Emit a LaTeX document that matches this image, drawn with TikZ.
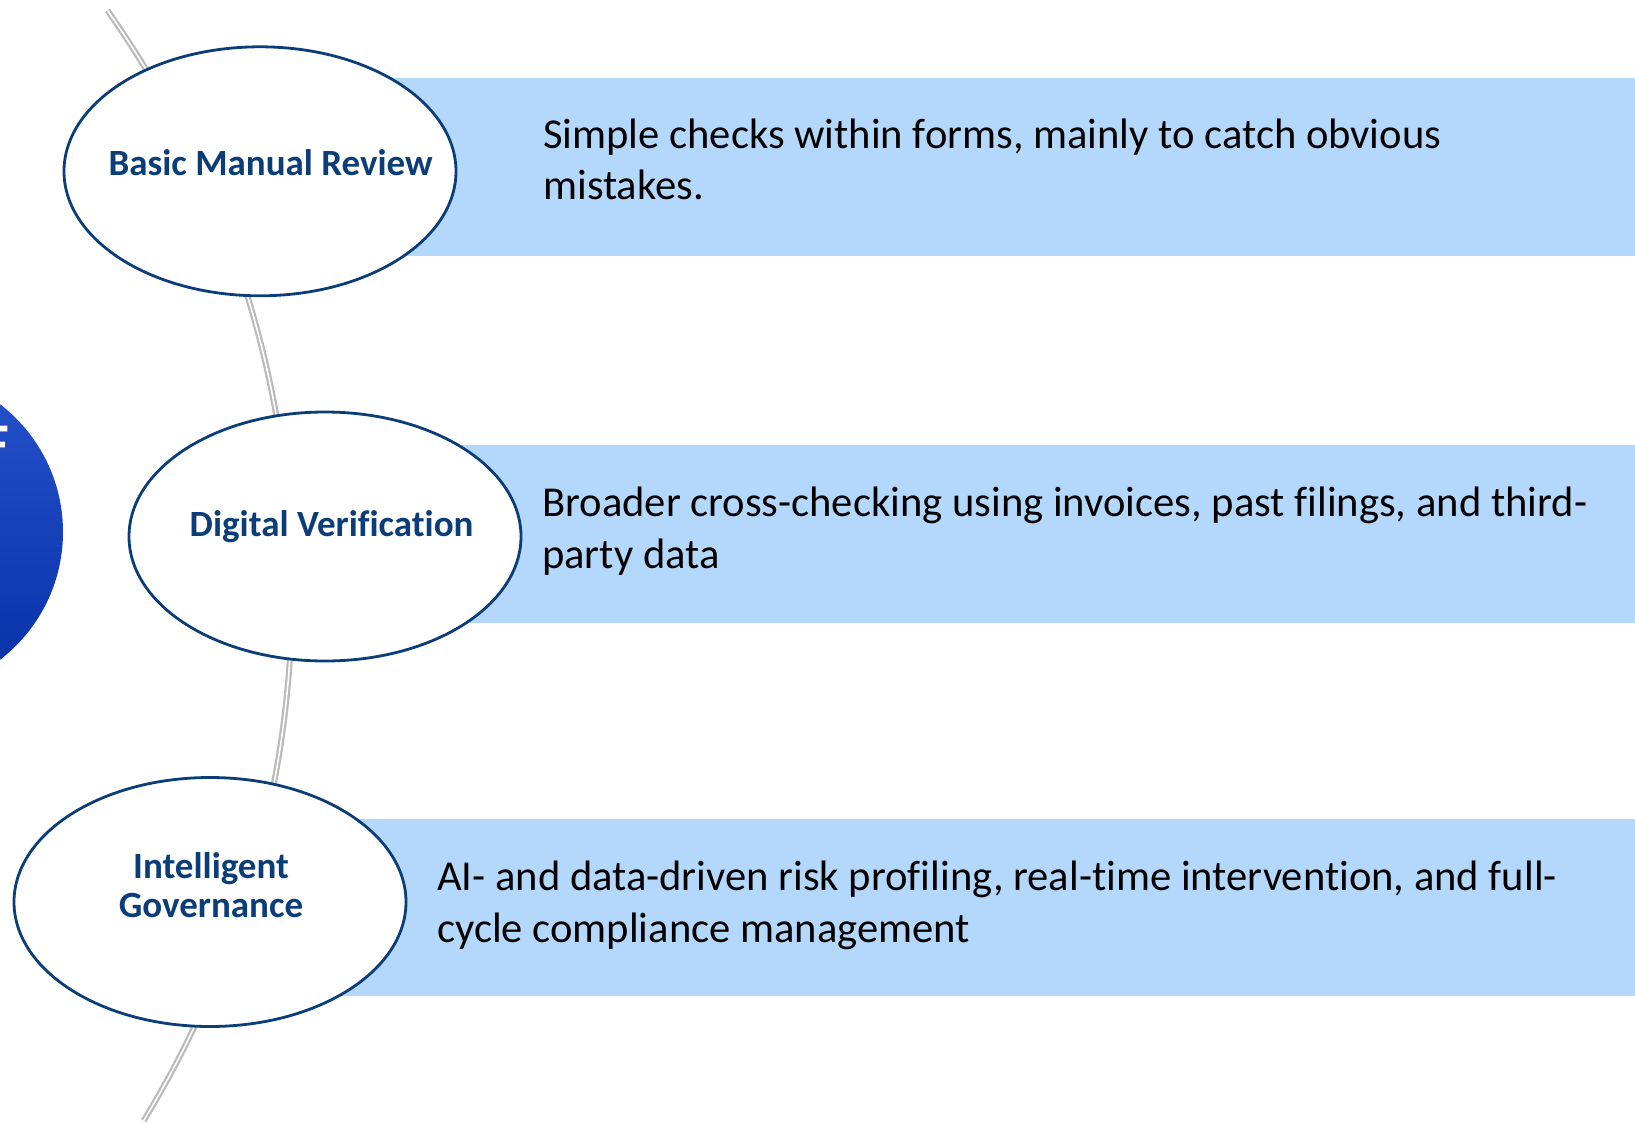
\documentclass[tikz,border=0pt]{standalone}
\usepackage{fontspec}
\setmainfont{Carlito}[Ligatures={CommonOff}]
\usetikzlibrary{shapes.geometric}
\definecolor{bandblue}{RGB}{180,216,252}
\definecolor{navy}{HTML}{0B3D78}
\definecolor{railgray}{RGB}{186,186,186}
\definecolor{hubtop}{RGB}{38,82,204}
\definecolor{hubbottom}{RGB}{6,48,165}
\begin{document}
\begin{tikzpicture}[x=1pt,y=-1pt,
  band/.style={fill=bandblue, draw=none},
  stage/.style={ellipse, draw=navy, line width=2.8pt, fill=white,
    minimum width=392pt, minimum height=249pt, inner sep=0pt},
  stagelabel/.style={font=\fontsize{37}{39.5}\selectfont\bfseries, text=navy,
    align=center, inner sep=0pt, anchor=base},
  desc/.style={font=\fontsize{42.6}{51.6}\selectfont, anchor=base west,
    align=left, inner sep=0pt},
  rail/.style={draw=railgray, line width=2.2pt, double=white, double distance=1.6pt}
]
\useasboundingbox (0,0) rectangle (1635,1124);
\clip (0,0) rectangle (1635,1124);

% hub disc on the left edge
\shade[top color=hubtop, bottom color=hubbottom] (-98,532) circle[radius=161];
\node[font=\fontsize{56}{60}\selectfont\bfseries, text=white, anchor=base east,
  inner sep=0pt] (hubtext) at (9,462) {F};

% description bands
\fill[band] (260,77.7) rectangle (1635,255.7);
\fill[band] (325,445.2) rectangle (1635,622.5);
\fill[band] (210,818.5) rectangle (1635,995.8);

% connecting rail
\coordinate (railtop) at (107.4,10.4);
\draw[rail] (railtop) arc[start angle=-35.16, end angle=31.42, radius=1012];

% stages
\node[stage] (basic) at (260,171.3) {};
\node[stage] (digital) at (325,536.5) {};
\node[stage] (intel) at (210,902) {};

% labels (multi-line nodes sit on the baseline of their last line)
\node[stagelabel] (basiclabel) at (270.6,175.7) {Basic Manual Review};
\node[stagelabel] (digitallabel) at (331.6,536.5) {Digital Verification};
\node[stagelabel] (intellabel) at (211,917.5) {Intelligent\\Governance};

% descriptions
\node[desc] (basicnote) at (543,199.9)
  {Simple checks within forms, mainly to catch obvious\\mistakes.};
\node[desc] (digitalnote) at (542,568.1)
  {Broader cross-checking using invoices, past filings, and third-\\party data};
\node[desc] (intelnote) at (437,942.1)
  {AI- and data-driven risk profiling, real-time intervention, and full-\\cycle compliance management};
\end{tikzpicture}
\end{document}
